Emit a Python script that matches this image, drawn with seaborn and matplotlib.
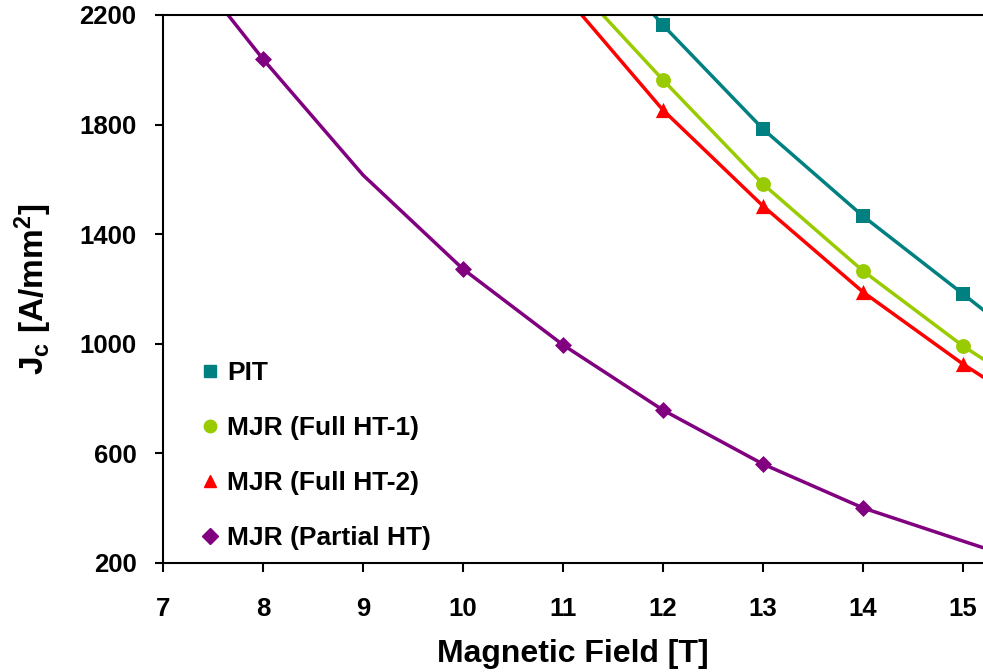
import matplotlib
matplotlib.use("Agg")
import matplotlib.pyplot as plt
from matplotlib.lines import Line2D
import seaborn as sns

# ---- data ----
field = [11, 12, 13, 14, 15, 16]
pit = [2580, 2163, 1784, 1466, 1182, 894]
full_ht1 = [2357, 1963, 1583, 1266, 992, 755]
full_ht2 = [2280, 1853, 1503, 1189, 926, 690]
marker_field = [12, 13, 14, 15]
pit_m = [2163, 1784, 1466, 1182]
full_ht1_m = [1963, 1583, 1266, 992]
full_ht2_m = [1853, 1503, 1189, 926]

partial_field = [7, 8, 9, 10, 11, 12, 13, 14, 15, 16]
partial_ht = [2500, 2039, 1616, 1273, 996, 758, 561, 401, 280, 160]
partial_marker_field = [8, 10, 11, 12, 13, 14]
partial_ht_m = [2039, 1273, 996, 758, 561, 401]

labels = ["PIT", "MJR (Full HT-1)", "MJR (Full HT-2)", "MJR (Partial HT)"]
colors = ["#008080", "#99CC00", "#FF0000", "#800080"]
markers = ["s", "o", "^", "D"]
yticks = [200, 600, 1000, 1400, 1800, 2200]
xticks = [7, 8, 9, 10, 11, 12, 13, 14, 15]

sns.set_style("white")
plt.rcParams["font.family"] = ["Liberation Sans", "DejaVu Sans"]
plt.rcParams["font.weight"] = "bold"
plt.rcParams["text.color"] = "black"
plt.rcParams["axes.labelcolor"] = "black"
plt.rcParams["mathtext.fontset"] = "custom"
plt.rcParams["mathtext.rm"] = "Liberation Sans:bold"
plt.rcParams["mathtext.it"] = "Liberation Sans:bold"
plt.rcParams["mathtext.bf"] = "Liberation Sans:bold"

fig = plt.figure(figsize=(9.83, 6.72), dpi=100)
ax = fig.add_axes([163 / 983, 1 - 563 / 672, 820 / 983, 548 / 672])

line_sets = [
    (field, pit, marker_field, pit_m),
    (field, full_ht1, marker_field, full_ht1_m),
    (field, full_ht2, marker_field, full_ht2_m),
    (partial_field, partial_ht, partial_marker_field, partial_ht_m),
]
sizes = {"s": 105, "o": 115, "^": 120, "D": 75}
for (lx, ly, mx, my), c, m in zip(line_sets, colors, markers):
    sns.lineplot(x=lx, y=ly, ax=ax, color=c, linewidth=2.5, sort=False)
    sns.scatterplot(x=mx, y=my, ax=ax, color=c, marker=m, s=sizes[m],
                    edgecolor=c, linewidth=0, zorder=5)

ax.set_xlim(7, 15.2)
ax.set_ylim(200, 2200)
ax.set_xticks(xticks)
ax.set_yticks(yticks)
ax.tick_params(axis="both", direction="out", width=1.5, labelsize=18.5,
               colors="black", bottom=True, left=True, top=False, right=False)
ax.tick_params(axis="x", length=6.5, pad=18)
ax.tick_params(axis="y", length=6, pad=13)
for lab in ax.get_xticklabels() + ax.get_yticklabels():
    lab.set_fontweight("bold")

for s in ["top", "left", "bottom"]:
    ax.spines[s].set_visible(True)
    ax.spines[s].set_color("black")
    ax.spines[s].set_linewidth(1.5)
ax.spines["right"].set_visible(False)

ax.set_xlabel("Magnetic Field [T]", fontsize=23, fontweight="bold", labelpad=13,
              color="black")
ax.set_ylabel(r"J$_\mathrm{c}$ [A/mm$^\mathrm{2}$]", fontsize=24, fontweight="bold",
              labelpad=18, color="black")

handles = [Line2D([], [], linestyle="none", marker=m, color=c,
                  markersize=9 if m != "D" else 8)
           for m, c in zip(markers, colors)]
leg = ax.legend(handles, labels, loc="lower left", bbox_to_anchor=(0.012, -0.02),
                frameon=False, prop={"size": 19, "weight": "bold"},
                handletextpad=0.15, labelspacing=1.18, handlelength=1.0,
                labelcolor="black")

fig.savefig("out.png", dpi=100)
